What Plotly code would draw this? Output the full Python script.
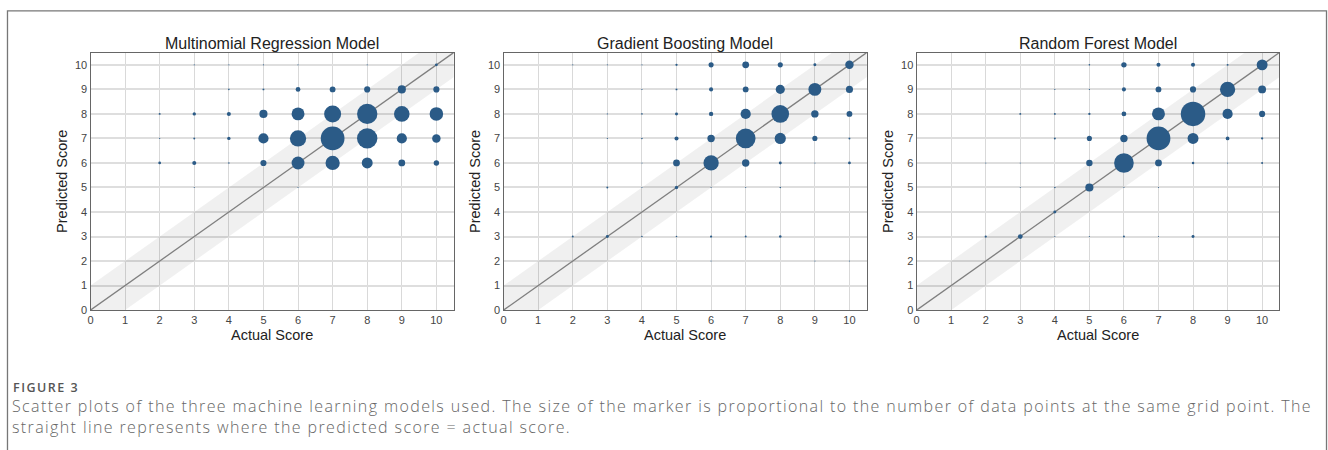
import numpy as np
import plotly.graph_objects as go

W, H = 1328, 450

model_titles = ["Multinomial Regression Model", "Gradient Boosting Model", "Random Forest Model"]
tick_values = list(range(0, 11))

# Multinomial regression: actual score, predicted score, number of cases at that grid point
mr_actual = [3, 4, 5, 6, 8, 10,
             4, 5, 6, 7, 8, 9, 10,
             2, 3, 4, 5, 6, 7, 8, 9, 10,
             2, 3, 4, 5, 6, 7, 8, 9, 10,
             2, 3, 4, 5, 6, 7, 8, 9, 10,
             3, 6]
mr_predicted = [10, 10, 10, 10, 10, 10,
                9, 9, 9, 9, 9, 9, 9,
                8, 8, 8, 8, 8, 8, 8, 8, 8,
                7, 7, 7, 7, 7, 7, 7, 7, 7,
                6, 6, 6, 6, 6, 6, 6, 6, 6,
                5, 5]
mr_count = [1, 1, 1, 1, 1, 6,
            2, 3, 18, 27, 30, 53, 30,
            3, 9, 13, 53, 133, 230, 330, 193, 146,
            1, 3, 9, 83, 212, 449, 330, 83, 57,
            6, 13, 2, 30, 133, 162, 95, 37, 23,
            1, 1]

# Gradient boosting
gb_actual = [2, 3, 4, 5, 6, 7, 8, 9, 10,
             4, 5, 6, 7, 8, 9, 10,
             3, 4, 5, 6, 7, 8, 9, 10,
             3, 4, 5, 6, 7, 8, 9, 10,
             4, 5, 6, 7, 8, 9, 10,
             3, 4, 5, 6, 7, 8,
             2, 3, 4, 5, 6, 7, 8,
             6, 9, 10]
gb_predicted = [10, 10, 10, 10, 10, 10, 10, 10, 10,
                9, 9, 9, 9, 9, 9, 9,
                8, 8, 8, 8, 8, 8, 8, 8,
                7, 7, 7, 7, 7, 7, 7, 7,
                6, 6, 6, 6, 6, 6, 6,
                5, 5, 5, 5, 5, 5,
                3, 3, 3, 3, 3, 3, 3,
                2, 2, 2]
gb_count = [1, 1, 1, 4, 21, 37, 21, 7, 57,
            1, 3, 13, 27, 67, 133, 40,
            1, 2, 7, 15, 83, 248, 44, 27,
            1, 2, 13, 44, 308, 100, 21, 3,
            1, 37, 186, 44, 7, 1, 6,
            3, 1, 9, 1, 1, 2,
            3, 7, 2, 2, 4, 3, 5,
            1, 1, 1]

# Random forest
rf_actual = [5, 6, 7, 8, 9, 10,
             4, 5, 6, 7, 8, 9, 10,
             3, 4, 5, 6, 7, 8, 9, 10,
             4, 5, 6, 7, 8, 9, 10,
             2, 3, 5, 6, 7, 8, 9, 10,
             3, 4, 5, 6, 7,
             4,
             2, 3, 4, 5, 6, 7, 8]
rf_predicted = [10, 10, 10, 10, 10, 10,
                9, 9, 9, 9, 9, 9, 9,
                8, 8, 8, 8, 8, 8, 8, 8,
                7, 7, 7, 7, 7, 7, 7,
                6, 6, 6, 6, 6, 6, 6, 6,
                5, 5, 5, 5, 5,
                4,
                3, 3, 3, 3, 3, 3, 3]
rf_count = [2, 23, 13, 13, 3, 95,
            1, 1, 13, 27, 30, 186, 49,
            3, 3, 4, 18, 133, 480, 83, 30,
            3, 21, 44, 450, 95, 11, 4,
            1, 1, 33, 308, 37, 5, 1, 3,
            1, 2, 53, 1, 1,
            7,
            4, 18, 1, 1, 3, 1, 7]

models = [
    (mr_actual, mr_predicted, mr_count),
    (gb_actual, gb_predicted, gb_count),
    (rf_actual, rf_predicted, rf_count),
]

AXIS_MAX = 10.5
TOLERANCE = 1          # half-width of the shaded band around the identity line
SIZE_SCALE = 1.12      # marker area proportional to count
MARKER_COLOR = "#2b5b87"
SANS = "Liberation Sans, Arial, sans-serif"
CAPTION_FONT = "Open Sans, sans-serif"

# panel placement in pixels
panel_x = [(87.7, 451.7), (501.7, 865.7), (915.7, 1279.3)]
panel_top, panel_bottom = 53.3, 314.3

def px_x(v):
    return v / W

def px_y(v):
    return 1 - v / H

def tracked(text, spacing):
    return f'<span style="letter-spacing:{spacing}px">{text}</span>'

fig = go.Figure()
annotations = []

for i, (actual, predicted, count) in enumerate(models):
    ax = "" if i == 0 else str(i + 1)
    xref, yref = "x" + ax, "y" + ax

    # shaded tolerance band around predicted = actual
    band_x = [0, AXIS_MAX + 1, AXIS_MAX + 1, 0]
    band_y = [-TOLERANCE, AXIS_MAX + 1 - TOLERANCE, AXIS_MAX + 1 + TOLERANCE, TOLERANCE]
    fig.add_trace(go.Scatter(
        x=band_x, y=band_y, fill="toself", mode="lines",
        fillcolor="rgba(0,0,0,0.06)", line=dict(width=0),
        hoverinfo="skip", showlegend=False, xaxis=xref, yaxis=yref))

    # identity line
    fig.add_trace(go.Scatter(
        x=[0, AXIS_MAX], y=[0, AXIS_MAX], mode="lines",
        line=dict(color="#7f7f7f", width=1.3),
        hoverinfo="skip", showlegend=False, xaxis=xref, yaxis=yref))

    sizes = SIZE_SCALE * np.sqrt(np.array(count, dtype=float))
    fig.add_trace(go.Scatter(
        x=actual, y=predicted, mode="markers",
        marker=dict(size=sizes, color=MARKER_COLOR, line=dict(width=0), opacity=1),
        customdata=count, hovertemplate="Actual %{x}<br>Predicted %{y}<br>n = %{customdata}<extra></extra>",
        showlegend=False, xaxis=xref, yaxis=yref))

    x0, x1 = panel_x[i]
    axis_common = dict(
        range=[0, AXIS_MAX], tickmode="array", tickvals=tick_values,
        showline=True, mirror=True, linecolor="#666666", linewidth=1.3,
        zeroline=False, ticks="", ticklen=0,
        tickfont=dict(family=SANS, size=11, color="#444444"),
        fixedrange=True,
    )
    fig.update_layout(**{
        "xaxis" + ax: dict(axis_common, domain=[px_x(x0), px_x(x1)], anchor=yref,
                           showgrid=True, gridcolor="#d9d9d9", gridwidth=1),
        "yaxis" + ax: dict(axis_common, domain=[px_y(panel_bottom), px_y(panel_top)], anchor=xref,
                           showgrid=True, gridcolor="#dedede", gridwidth=1.6),
    })

    cx = (x0 + x1) / 2
    annotations.append(dict(
        text=model_titles[i], x=px_x(cx), y=px_y(44), xref="paper", yref="paper",
        xanchor="center", yanchor="middle", showarrow=False,
        font=dict(family=SANS, size=16, color="#222222")))
    annotations.append(dict(
        text="Actual Score", x=px_x(cx), y=px_y(340), xref="paper", yref="paper",
        xanchor="center", yanchor="middle", showarrow=False,
        font=dict(family=SANS, size=14.5, color="#222222")))
    annotations.append(dict(
        text="Predicted Score", x=px_x(x0 - 28), y=px_y((panel_top + panel_bottom) / 2),
        xref="paper", yref="paper", textangle=-90,
        xanchor="center", yanchor="middle", showarrow=False,
        font=dict(family=SANS, size=14.5, color="#222222")))

# figure caption
annotations.append(dict(
    text=tracked("FIGURE 3", 1.5), x=px_x(8), y=px_y(393), xref="paper", yref="paper",
    xanchor="left", yanchor="middle", showarrow=False,
    font=dict(family=CAPTION_FONT, size=12.5, color="#555555", weight=600)))
caption_lines = [
    "Scatter plots of the three machine learning models used. The size of the marker is proportional to the number of data points at the same grid point. The",
    "straight line represents where the predicted score = actual score.",
]
annotations.append(dict(
    text="<br>".join(tracked(line, 1.39) for line in caption_lines),
    x=px_x(7.5), y=px_y(422.5), xref="paper", yref="paper",
    xanchor="left", yanchor="middle", align="left", showarrow=False,
    font=dict(family=CAPTION_FONT, size=16, color="#666666", weight=300)))

fig.update_layout(
    width=W, height=H,
    margin=dict(l=0, r=0, t=0, b=0),
    paper_bgcolor="white", plot_bgcolor="white",
    annotations=annotations,
    shapes=[dict(type="rect", xref="paper", yref="paper",
                 x0=px_x(4.5), x1=px_x(1326.5), y0=-0.1, y1=px_y(11),
                 line=dict(color="#777777", width=1.3), fillcolor="rgba(0,0,0,0)", layer="below")],
    showlegend=False,
)

fig.write_html("out.html")
